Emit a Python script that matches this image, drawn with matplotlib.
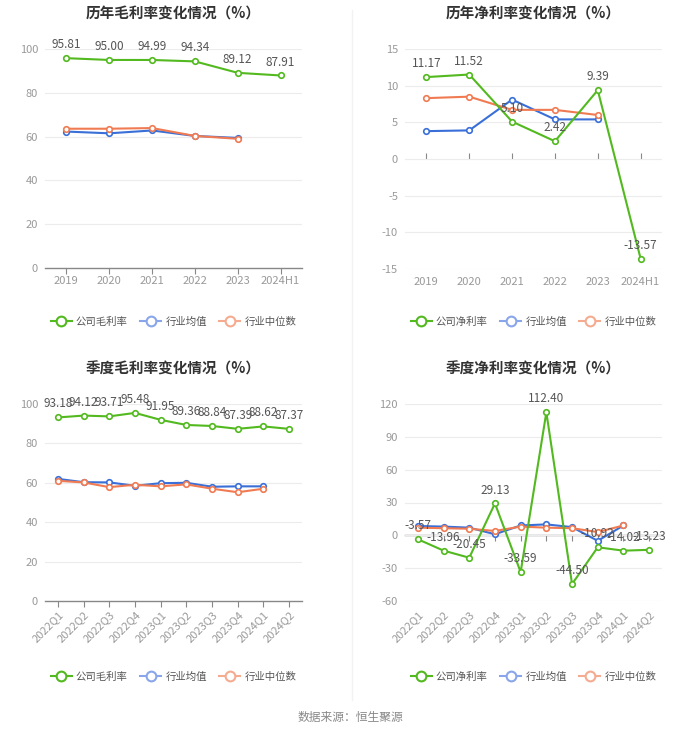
import matplotlib
matplotlib.use("Agg")
import matplotlib.pyplot as plt
from matplotlib.lines import Line2D

plt.rcParams['font.family'] = ['Noto Sans CJK SC', 'DejaVu Sans']
plt.rcParams['axes.unicode_minus'] = False

# 数据
years = ['2019', '2020', '2021', '2022', '2023', '2024H1']
quarters = ['2022Q1', '2022Q2', '2022Q3', '2022Q4', '2023Q1', '2023Q2',
            '2023Q3', '2023Q4', '2024Q1', '2024Q2']

year_gross_co = [95.81, 95.00, 94.99, 94.34, 89.12, 87.91]
year_gross_avg = [62.3, 61.5, 62.8, 60.3, 59.4]
year_gross_med = [63.6, 63.6, 63.9, 60.3, 59.0]

year_net_co = [11.17, 11.52, 5.10, 2.42, 9.39, -13.57]
year_net_avg = [3.8, 3.9, 8.1, 5.4, 5.4]
year_net_med = [8.3, 8.5, 6.7, 6.7, 6.0]

q_gross_co = [93.18, 94.12, 93.71, 95.48, 91.95, 89.36, 88.84, 87.39, 88.62, 87.37]
q_gross_avg = [62.0, 60.3, 60.2, 58.5, 59.8, 60.0, 58.0, 58.2, 58.2]
q_gross_med = [61.0, 60.2, 57.8, 59.0, 58.2, 59.2, 57.0, 55.2, 57.0]

q_net_co = [-3.57, -13.96, -20.45, 29.13, -33.59, 112.40, -44.50, -10.92, -14.02, -13.23]
q_net_avg = [8.5, 8.0, 7.0, 1.0, 9.0, 10.0, 7.5, -5.0, 9.0]
q_net_med = [7.0, 6.5, 6.0, 4.0, 8.0, 7.0, 6.5, 3.0, 9.0]

GREEN = '#52b91f'
BLUE = '#3a6fd8'
ORANGE = '#f07b52'
BLUE_L = '#8aa6ea'
ORANGE_L = '#f5ab90'

fig = plt.figure(figsize=(7, 7.34), dpi=100)


def draw(rect, title, cats, co, avg, med, ylim, yticks, rotate=False):
    ax = fig.add_axes(rect)
    x = list(range(len(cats)))
    ax.set_xlim(-0.5, len(cats) - 0.5)
    ax.set_ylim(*ylim)
    ax.set_yticks(yticks)
    ax.grid(axis='y', color='#ececec', lw=0.8)
    ax.set_axisbelow(True)
    for s in ax.spines.values():
        s.set_visible(False)
    ax.tick_params(axis='y', length=0, labelsize=8, labelcolor='#999999', pad=5)
    ax.set_xticks(x)
    if rotate:
        ax.set_xticklabels(cats, rotation=45, ha='right', rotation_mode='anchor')
    else:
        ax.set_xticklabels(cats)
    ax.tick_params(axis='x', length=0, labelsize=8, labelcolor='#999999', pad=6)

    # 零轴线
    zero_frac = (0 - ylim[0]) / (ylim[1] - ylim[0])
    sec = ax.secondary_xaxis(zero_frac)
    sec.set_xticks(x)
    sec.set_xticklabels([])
    sec.tick_params(axis='x', direction='out', length=4, color='#888888', width=0.8)
    sec.spines['bottom'].set_color('#888888')
    sec.spines['bottom'].set_linewidth(1.0)
    for k in ('top', 'left', 'right'):
        sec.spines[k].set_visible(False)

    mk = dict(marker='o', markersize=4, markerfacecolor='white', markeredgewidth=1.2)
    ax.plot(range(len(avg)), avg, color=BLUE, lw=1.5, zorder=3, **mk)
    ax.plot(range(len(med)), med, color=ORANGE, lw=1.5, zorder=3, **mk)
    ax.plot(x, co, color=GREEN, lw=1.5, zorder=4, **mk)
    for xi, v in zip(x, co):
        ax.annotate(f'{v:.2f}', (xi, v), xytext=(0, 5), textcoords='offset points',
                    ha='center', va='bottom', fontsize=8.5, color='#555555', zorder=5)

    ax.set_title(title, fontsize=10.5, fontweight='bold', color='#333333', pad=0,
                 y=1.0 + 30 / (rect[3] * 734))
    return ax


W = 257 / 700
axes_specs = [
    ([45 / 700, 1 - 268 / 734, W, 219 / 734], '历年毛利率变化情况（%）', years,
     year_gross_co, year_gross_avg, year_gross_med, (0, 100), [0, 20, 40, 60, 80, 100],
     '公司毛利率', False, 322),
    ([405 / 700, 1 - 269 / 734, W, 220 / 734], '历年净利率变化情况（%）', years,
     year_net_co, year_net_avg, year_net_med, (-15, 15), [-15, -10, -5, 0, 5, 10, 15],
     '公司净利率', False, 322),
    ([45 / 700, 1 - 601 / 734, W, 197 / 734], '季度毛利率变化情况（%）', quarters,
     q_gross_co, q_gross_avg, q_gross_med, (0, 100), [0, 20, 40, 60, 80, 100],
     '公司毛利率', True, 677),
    ([405 / 700, 1 - 601 / 734, W, 197 / 734], '季度净利率变化情况（%）', quarters,
     q_net_co, q_net_avg, q_net_med, (-60, 120), [-60, -30, 0, 30, 60, 90, 120],
     '公司净利率', True, 677),
]

lk = dict(marker='o', markersize=7, markerfacecolor='white', markeredgewidth=1.5, lw=1.5)

for rect, title, cats, co, avg, med, ylim, yticks, co_name, rot, ly in axes_specs:
    draw(rect, title, cats, co, avg, med, ylim, yticks, rot)
    handles = [Line2D([], [], color=GREEN, **lk),
               Line2D([], [], color=BLUE_L, **lk),
               Line2D([], [], color=ORANGE_L, **lk)]
    cx = rect[0] + rect[2] / 2
    leg = fig.legend(handles, [co_name, '行业均值', '行业中位数'], loc='center',
                     bbox_to_anchor=(cx, 1 - ly / 734), ncol=3, frameon=False,
                     fontsize=7.5, handlelength=2.0, handletextpad=0.4, columnspacing=1.2)
    for t in leg.get_texts():
        t.set_color('#555555')

# 分隔线
fig.add_artist(Line2D([352 / 700, 352 / 700], [1 - 700 / 734, 1 - 10 / 734],
                      color='#f2f2f2', lw=1))

fig.text(0.5, 1 - 717 / 734, '数据来源：恒生聚源', ha='center', va='center',
         fontsize=8.5, color='#888888')

fig.savefig('out.png', dpi=100, facecolor='white')
